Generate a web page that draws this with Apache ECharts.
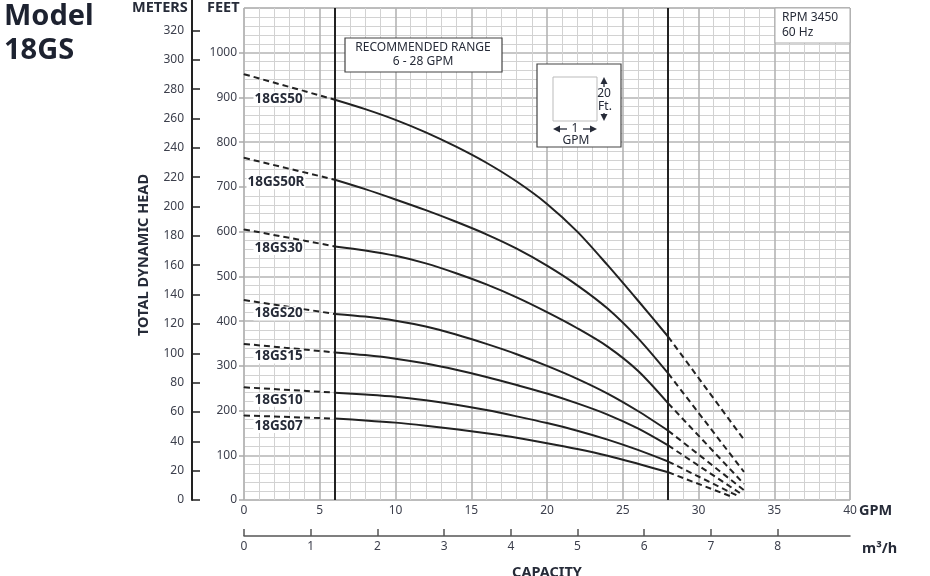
<!DOCTYPE html>
<html>
<head>
<meta charset="utf-8">
<script src="https://cdn.jsdelivr.net/npm/echarts@6/dist/echarts.min.js"></script>
<style>
  html, body { margin: 0; padding: 0; background: #fff; }
  #chart { width: 930px; height: 576px; }
</style>
</head>
<body>
<div id="chart"></div>
<script>
// pump curves, head in feet vs capacity in GPM
const models = ['18GS50', '18GS50R', '18GS30', '18GS20', '18GS15', '18GS10', '18GS07']
const gpmSolid = [6, 8, 10, 12, 14, 16, 18, 20, 22, 24, 26, 28]
const head18GS50 = [895, 874, 850, 822, 790, 754, 712, 662, 600, 525, 446, 365]
const head18GS50R = [716, 695, 672, 648, 622, 594, 562, 524, 480, 428, 362, 283]
const head18GS30 = [567, 558, 546, 529, 507, 482, 453, 420, 384, 343, 289, 216]
const head18GS20 = [416, 410, 401, 388, 370, 349, 326, 300, 271, 238, 199, 155]
const head18GS15 = [330, 324, 316, 305, 291, 275, 257, 238, 216, 191, 160, 122]
const head18GS10 = [240, 236, 231, 223, 213, 201, 187, 172, 155, 135, 112, 86]
const head18GS07 = [182, 178, 173, 166, 158, 149, 139, 127, 114, 99, 81, 62]
const heads = [head18GS50, head18GS50R, head18GS30, head18GS20, head18GS15, head18GS10, head18GS07]
const shutoffHead = [952, 765, 605, 447, 349, 252, 189] // at 0 GPM
const runoutFlow = [33, 33, 33, 33, 32.8, 32.6, 32.3]
const runoutHead = [135, 63, 36, 22, 14, 9, 6]
const recommended = [6, 28]
const m3hTicks = [0, 1, 2, 3, 4, 5, 6, 7, 8]

const FT_MAX = 1100
const M_PER_FT = 0.3048
const GPM_PER_M3H = 4.4029
const GPM_MAX = 40

const font = '"Noto Sans", sans-serif'
const ink = '#262b38'
const lineColor = '#222'

// label offsets (px) from the 0 GPM point
const labelOffsets = [[10, 25], [3, 25], [10, 19], [10, 14], [10, 13], [10, 13], [10, 11]]

const series = []
models.forEach((name, i) => {
  const h = heads[i]
  series.push({
    name: name,
    type: 'line',
    smooth: 0.3,
    showSymbol: false,
    lineStyle: { color: lineColor, width: 2 },
    data: gpmSolid.map((g, k) => [g, h[k]]),
    z: 5
  })
  series.push({
    name: name + ' low',
    type: 'line',
    symbol: 'circle',
    symbolSize: 1,
    itemStyle: { color: lineColor },
    lineStyle: { color: lineColor, width: 2, type: [6, 4] },
    data: [
      {
        value: [0, shutoffHead[i]],
        label: {
          show: true,
          position: labelOffsets[i],
          formatter: name,
          fontFamily: font,
          fontWeight: 'bold',
          fontSize: 13.5,
          color: ink,
          backgroundColor: '#fff',
          padding: [0, 1],
          align: 'left',
          verticalAlign: 'middle'
        }
      },
      { value: [gpmSolid[0], h[0]], symbolSize: 0 }
    ],
    z: 5
  })
  series.push({
    name: name + ' high',
    type: 'line',
    showSymbol: false,
    lineStyle: { color: lineColor, width: 2, type: [6, 4] },
    data: [[gpmSolid[gpmSolid.length - 1], h[h.length - 1]], [runoutFlow[i], runoutHead[i]]],
    z: 5
  })
})

series.push({
  type: 'line',
  data: [],
  markLine: {
    silent: true,
    symbol: 'none',
    label: { show: false },
    lineStyle: { color: lineColor, width: 2, type: 'solid' },
    data: recommended.map(v => ({ xAxis: v }))
  }
})

function txt (text, x, y, size, opts) {
  opts = opts || {}
  return {
    type: 'text',
    x: x,
    y: y,
    rotation: opts.rotation || 0,
    z: 20,
    style: {
      text: text,
      font: (opts.bold ? 'bold ' : '') + size + 'px ' + font,
      fill: opts.color || ink,
      align: opts.align || 'left',
      verticalAlign: 'middle',
      textAlign: opts.align || 'left',
      textVerticalAlign: 'middle'
    }
  }
}
function box (x, y, w, h, stroke, width) {
  return {
    type: 'rect',
    z: 15,
    shape: { x: x, y: y, width: w, height: h },
    style: { fill: '#fff', stroke: stroke, lineWidth: width }
  }
}
function seg (x1, y1, x2, y2, color, width) {
  return {
    type: 'line',
    z: 20,
    shape: { x1: x1, y1: y1, x2: x2, y2: y2 },
    style: { stroke: color || ink, lineWidth: width || 1.3 }
  }
}
function arrow (points) {
  return { type: 'polygon', z: 20, shape: { points: points }, style: { fill: ink } }
}

const graphic = [
  txt('Model', 4, 17, 29, { bold: true, color: '#1d2230' }),
  txt('18GS', 4, 51, 29, { bold: true, color: '#1d2230' }),
  txt('METERS', 132, 8, 14.5, { bold: true }),
  txt('FEET', 207, 8, 14.5, { bold: true }),
  txt('TOTAL DYNAMIC HEAD', 144, 255, 14.5, { bold: true, align: 'center', rotation: Math.PI / 2 }),
  txt('GPM', 859, 511, 14.5, { bold: true }),
  txt('m³/h', 862, 549, 14.5, { bold: true }),
  txt('CAPACITY', 547, 573, 14.5, { bold: true, align: 'center' }),
  seg(192, 0, 192, 9, '#222', 2),
  // recommended range
  box(345, 38, 157, 34, '#444', 1.2),
  txt('RECOMMENDED RANGE', 423, 48, 12, { align: 'center' }),
  txt('6 - 28 GPM', 423, 62, 12, { align: 'center' }),
  // rpm box
  box(775, 8, 75, 35, '#aaa', 1),
  txt('RPM 3450', 782, 18, 12),
  txt('60 Hz', 782, 33, 12),
  // scale key
  box(537, 64, 84, 83, '#444', 1.2),
  {
    type: 'rect',
    z: 16,
    shape: { x: 553, y: 77, width: 44, height: 44 },
    style: { fill: '#fff', stroke: '#bbb', lineWidth: 1 }
  },
  arrow([[604, 77], [600.5, 84], [607.5, 84]]),
  seg(604, 84, 604, 87),
  txt('20', 604, 94, 12, { align: 'center' }),
  txt('Ft.', 605, 107, 12, { align: 'center' }),
  seg(604, 113, 604, 115),
  arrow([[604, 121], [600.5, 114], [607.5, 114]]),
  arrow([[553, 129], [560, 125.5], [560, 132.5]]),
  seg(560, 129, 567, 129),
  txt('1', 575, 129, 12, { align: 'center' }),
  seg(583, 129, 590, 129),
  arrow([[597, 129], [590, 125.5], [590, 132.5]]),
  txt('GPM', 576, 141, 12, { align: 'center' })
]

const chart = echarts.init(document.getElementById('chart'), null, { renderer: 'canvas' })
chart.setOption({
  animation: false,
  backgroundColor: '#fff',
  grid: {
    left: 244,
    right: 80,
    top: 8,
    bottom: 76,
    show: true,
    borderColor: '#aaa',
    borderWidth: 1,
    backgroundColor: '#fff'
  },
  xAxis: [
    {
      type: 'value',
      min: 0,
      max: GPM_MAX,
      interval: 5,
      axisLine: { show: false },
      axisTick: { show: false },
      axisLabel: { margin: 5, fontFamily: font, fontSize: 12, color: '#3c3f4c' },
      splitLine: { show: true, lineStyle: { color: '#b4b4b4', width: 1.6 } },
      minorTick: { show: false, splitNumber: 5 },
      minorSplitLine: { show: true, lineStyle: { color: '#d2d2d2', width: 1 } }
    },
    {
      type: 'value',
      position: 'bottom',
      offset: 36,
      min: 0,
      max: GPM_MAX / GPM_PER_M3H,
      interval: 1,
      axisLine: { show: true, onZero: false, lineStyle: { color: '#555', width: 1.5 } },
      axisTick: { show: true, inside: true, length: 7, customValues: m3hTicks, lineStyle: { color: '#555', width: 1.5 } },
      axisLabel: { margin: 5, customValues: m3hTicks, fontFamily: font, fontSize: 12, color: '#3c3f4c' },
      splitLine: { show: false }
    }
  ],
  yAxis: [
    {
      type: 'value',
      position: 'left',
      min: 0,
      max: FT_MAX,
      interval: 100,
      axisLine: { show: false },
      axisTick: { show: true, length: 5, lineStyle: { color: '#aaa', width: 1.5 } },
      axisLabel: { margin: 7, showMaxLabel: false, formatter: v => String(v), fontFamily: font, fontSize: 12, color: '#3c3f4c' },
      splitLine: { show: true, lineStyle: { color: '#b4b4b4', width: 1.6 } },
      minorTick: { show: false, splitNumber: 5 },
      minorSplitLine: { show: true, lineStyle: { color: '#d2d2d2', width: 1 } }
    },
    {
      type: 'value',
      position: 'left',
      offset: 52,
      min: 0,
      max: FT_MAX * M_PER_FT,
      interval: 20,
      axisLine: { show: true, onZero: false, lineStyle: { color: '#222', width: 2 } },
      axisTick: { show: true, inside: true, length: 8, lineStyle: { color: '#222', width: 1.5 } },
      axisLabel: { margin: 8, showMaxLabel: false, fontFamily: font, fontSize: 12, color: '#3c3f4c' },
      splitLine: { show: false }
    }
  ],
  series: series,
  graphic: graphic
})

window.onresize = () => {
  chart.resize()
}
</script>
</body>
</html>
